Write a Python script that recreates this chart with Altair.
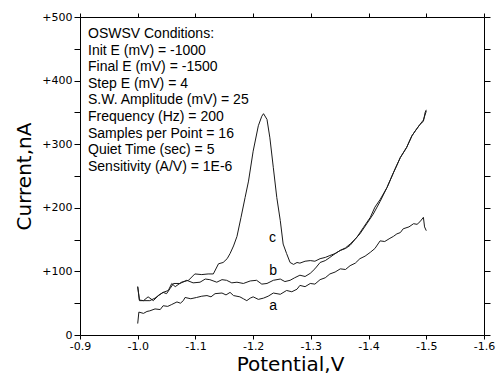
import altair as alt
import pandas as pd

# ---- data ----
a_v = [-1.000, -1.002, -1.010, -1.016, -1.021, -1.030, -1.039, -1.044, -1.052, -1.059, -1.068,
       -1.074, -1.079, -1.082, -1.092, -1.102, -1.111, -1.120, -1.127, -1.134, -1.146, -1.153,
       -1.160, -1.166, -1.177, -1.183, -1.189, -1.195, -1.200, -1.209, -1.218, -1.226, -1.235,
       -1.247, -1.258, -1.267, -1.276, -1.281, -1.290, -1.299, -1.307, -1.316, -1.325, -1.333,
       -1.342, -1.351, -1.360, -1.368, -1.377, -1.385, -1.394, -1.403, -1.411, -1.420, -1.428,
       -1.437, -1.443, -1.449, -1.455, -1.460, -1.470, -1.478, -1.484, -1.489, -1.495, -1.497, -1.500]
a_i = [18, 36, 34, 37, 38, 41, 40, 46, 45, 48, 52,
       50, 54, 59, 57, 59, 61, 62, 60, 65, 66, 63,
       67, 62, 60, 57, 54, 58, 60, 56, 58, 61, 66,
       64, 70, 68, 72, 78, 76, 81, 80, 87, 90, 96,
       99, 104, 103, 109, 113, 120, 124, 130, 136, 148, 147,
       152, 155, 159, 161, 167, 170, 175, 174, 178, 185, 170, 164]

b_v = [-1.000, -1.003, -1.010, -1.018, -1.027, -1.036, -1.044, -1.050, -1.056, -1.062, -1.073,
       -1.085, -1.096, -1.108, -1.117, -1.125, -1.137, -1.146, -1.154, -1.163, -1.172, -1.183,
       -1.195, -1.206, -1.215, -1.224, -1.235, -1.247, -1.255, -1.264, -1.272, -1.281, -1.290,
       -1.299, -1.307, -1.316, -1.325, -1.333, -1.342, -1.351, -1.360, -1.368, -1.377, -1.385,
       -1.397, -1.408, -1.420, -1.432, -1.443, -1.455, -1.466, -1.475, -1.481, -1.489, -1.495,
       -1.498, -1.500]
b_i = [76, 54, 54, 60, 54, 62, 67, 65, 73, 81, 81,
       86, 82, 83, 88, 87, 83, 87, 86, 82, 83, 81,
       85, 86, 80, 81, 86, 88, 84, 86, 90, 94, 92,
       97, 104, 114, 117, 122, 128, 133, 137, 143, 151, 159,
       175, 190, 210, 232, 255, 279, 295, 313, 321, 331, 336,
       350, 354]

c_v = [-1.000, -1.003, -1.010, -1.021, -1.030, -1.037, -1.044, -1.053, -1.059, -1.065, -1.076,
       -1.088, -1.099, -1.111, -1.122, -1.131, -1.140, -1.148, -1.155, -1.160, -1.166, -1.172,
       -1.179, -1.186, -1.192, -1.200, -1.209, -1.215, -1.218, -1.224, -1.229, -1.235, -1.241,
       -1.247, -1.252, -1.258, -1.264, -1.270, -1.276, -1.281, -1.290, -1.299, -1.307, -1.316,
       -1.325, -1.333, -1.342, -1.351, -1.360, -1.368, -1.380, -1.391, -1.403, -1.411, -1.420,
       -1.432, -1.443, -1.455, -1.466, -1.475, -1.481, -1.489, -1.495, -1.500]
c_i = [76, 55, 54, 54, 58, 63, 67, 70, 81, 76, 83,
       86, 96, 95, 96, 96, 112, 114, 120, 128, 140, 155,
       185, 216, 242, 289, 329, 344, 348, 339, 310, 263, 216,
       180, 143, 128, 114, 111, 114, 113, 116, 117, 116, 120,
       122, 125, 128, 133, 136, 141, 154, 169, 185, 201, 213,
       232, 255, 279, 295, 313, 321, 331, 338, 352]

curve_labels = ["a", "b", "c"]
label_v = [-1.2345, -1.2345, -1.2335]
label_i = [46, 101, 153]

conditions = [
    "OSWSV Conditions:",
    "Init E (mV) = -1000",
    "Final E (mV) = -1500",
    "Step E (mV) = 4",
    "S.W. Amplitude (mV) = 25",
    "Frequency (Hz) = 200",
    "Samples per Point = 16",
    "Quiet Time (sec) = 5",
    "Sensitivity (A/V) = 1E-6",
]

x_ticks = [-0.9, -1.0, -1.1, -1.2, -1.3, -1.4, -1.5, -1.6]
y_ticks = [0, 50, 100, 150, 200, 250, 300, 350, 400, 450, 500]

rows = []
for name, vs, cs in (("a", a_v, a_i), ("b", b_v, b_i), ("c", c_v, c_i)):
    for k, (v, c) in enumerate(zip(vs, cs)):
        rows.append({"curve": name, "k": k, "V": v, "I": c})
df = pd.DataFrame(rows)
lab_df = pd.DataFrame({"t": curve_labels, "V": label_v, "I": label_i})
txt_df = pd.DataFrame({"t": ["\n".join(conditions)]})

xscale = alt.Scale(domain=[-1.6, -0.9], reverse=True, nice=False, zero=False)
yscale = alt.Scale(domain=[0, 500], nice=False, zero=False)

ylab = "datum.value % 100 == 0 ? (datum.value > 0 ? '+' + datum.value : '0') : ''"
xlab = "replace(format(datum.value, '.1f'), '\u2212', '-')"

common_axis = dict(domainColor="black", tickColor="black", labelColor="black",
                   labelFont="DejaVu Sans", labelFontSize=11, titleFont="DejaVu Sans",
                   titleFontSize=20, titleFontWeight="normal", titleColor="black",
                   grid=False, domainWidth=1, tickWidth=1)

lines = alt.Chart(df).mark_line(color="#1a1a1a", strokeWidth=1, interpolate="linear").encode(
    x=alt.X("V:Q", scale=xscale,
            axis=alt.Axis(orient="bottom", values=x_ticks, labelExpr=xlab, title="Potential,V",
                          tickSize=4, labelPadding=1, titlePadding=3, labelFlush=False,
                          titleX=210, **common_axis)),
    y=alt.Y("I:Q", scale=yscale,
            axis=alt.Axis(orient="left", values=y_ticks, labelExpr=ylab, title="Current,nA",
                          tickSize=6, labelPadding=2, titlePadding=7, labelFlush=False,
                          **common_axis)),
    detail="curve:N",
    order="k:Q",
)

frame = alt.Chart(df).mark_line(opacity=0).encode(
    x=alt.X("V:Q", scale=xscale,
            axis=alt.Axis(orient="top", values=x_ticks, labels=False, title=None, tickSize=4,
                          domainColor="black", tickColor="black", grid=False)),
    y=alt.Y("I:Q", scale=yscale,
            axis=alt.Axis(orient="right", values=y_ticks, labels=False, title=None, tickSize=6,
                          domainColor="black", tickColor="black", grid=False)),
    detail="curve:N",
)

labels = alt.Chart(lab_df).mark_text(font="Liberation Sans", fontSize=14, color="black").encode(
    x=alt.X("V:Q", scale=xscale, axis=None),
    y=alt.Y("I:Q", scale=yscale, axis=None),
    text="t:N",
)

block = alt.Chart(txt_df).mark_text(
    font="Liberation Sans", fontSize=14, color="black", align="left", baseline="alphabetic",
    lineBreak="\n", lineHeight=16.6,
).encode(x=alt.value(8), y=alt.value(21), text="t:N")

chart = alt.layer(lines, frame, labels, block).resolve_axis(
    x="independent", y="independent"
).properties(
    width=404, height=318,
    autosize=alt.AutoSizeParams(type="none"),
    padding={"left": 80, "top": 17, "right": 13, "bottom": 40},
    background="white",
).configure_view(stroke=None)

chart.save("out.html", embed_options={"renderer": "svg", "actions": False})
